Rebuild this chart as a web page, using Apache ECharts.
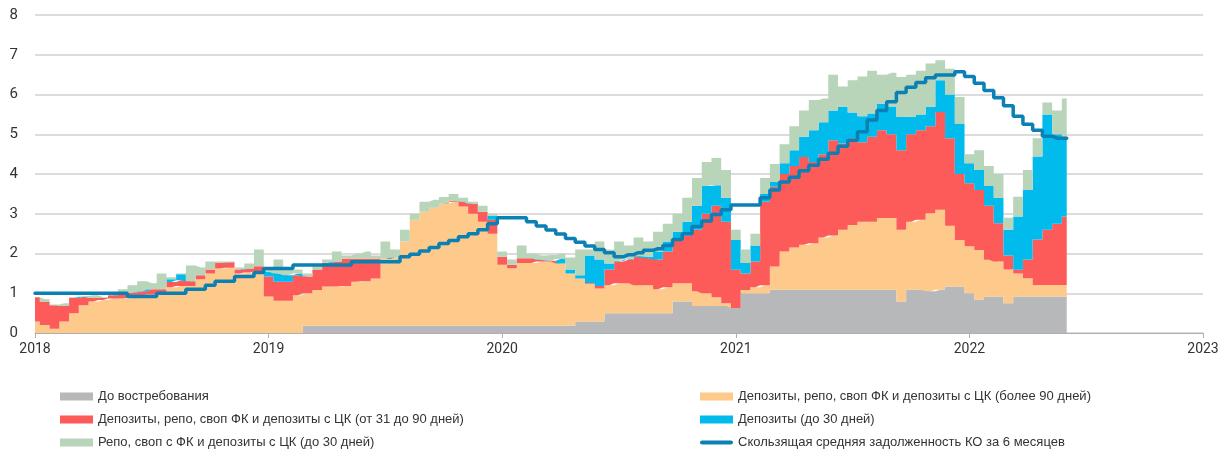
<!DOCTYPE html>
<html>
<head>
<meta charset="utf-8">
<script src="https://cdn.jsdelivr.net/npm/echarts@6/dist/echarts.min.js"></script>
<style>
html,body{margin:0;padding:0;background:#fff;}
#c{width:1231px;height:458px;}
</style>
</head>
<body>
<div id="c"></div>
<script>
// Semi-monthly observation slots, 2018-01 .. 2023-01 (data runs to 2022-06)
const periods = Array.from({length: 121}, (_, i) => {
  const y = 2018 + Math.floor(i / 24), m = Math.floor((i % 24) / 2) + 1, d = i % 2 ? 16 : 1;
  return y + '-' + String(m).padStart(2, '0') + '-' + String(d).padStart(2, '0');
});
const yearTicks = ['2018', '2019', '2020', '2021', '2022', '2023'];

const names = [
  'До востребования',
  'Депозиты, репо, своп ФК и депозиты с ЦК (более 90 дней)',
  'Депозиты, репо, своп ФК и депозиты с ЦК (от 31 до 90 дней)',
  'Депозиты (до 30 дней)',
  'Репо, своп с ФК и депозиты с ЦК (до 30 дней)',
  'Скользящая средняя задолженность КО за 6 месяцев'
];

const demand = [
  0,0,0,0,0,0,0,0,0,0,0,0,0,0,0,0,0,0,0,0,0,0,0,0,
  0,0,0,0,.18,.18,.18,.18,.18,.18,.18,.18,.18,.18,.18,.18,.18,.18,.18,.18,.18,.18,.18,.18,
  .18,.18,.18,.18,.18,.18,.18,.18,.29,.29,.29,.5,.5,.5,.5,.5,.5,.5,.79,.79,.68,.68,.68,.68,
  .63,1.0,1.0,1.0,1.09,1.09,1.09,1.09,1.09,1.09,1.09,1.09,1.09,1.09,1.09,1.09,1.09,.79,1.09,1.09,1.05,1.09,1.17,1.17,
  1.0,.84,.92,.92,.75,.92,.92,.92,.92,.92,.92
];
const over90 = [
  .29,.2,.11,.29,.5,.7,.79,.83,.87,.87,.88,.95,.97,.97,1.15,1.18,1.18,1.35,1.5,1.62,1.64,1.5,1.52,1.55,
  .92,.81,.81,.95,.82,.9,.99,.99,1.0,1.11,1.12,1.19,1.69,1.72,2.12,2.67,2.87,2.97,3.07,3.12,3.0,2.82,2.62,2.32,
  1.54,1.45,1.58,1.58,1.62,1.62,1.57,1.32,1.08,.95,.83,.7,.75,.75,.7,.7,.6,.65,.46,.46,.37,.32,.22,.07,
  0,.08,.15,.2,.58,.96,1.06,1.13,1.17,1.31,1.36,1.51,1.63,1.71,1.71,1.8,1.8,1.81,1.71,1.76,1.96,2.01,1.53,1.17,
  1.18,1.25,.92,.88,.85,.58,.46,.29,.29,.29,.29
];
const d31to90 = [
  .61,.58,.59,.39,.38,.21,.09,.05,.08,.13,.14,.1,.13,.13,.13,.15,.12,.1,.1,.15,.14,.1,.1,.13,
  .5,.48,.48,.5,.42,.52,.6,.63,.69,.58,.57,.5,0,0,0,0,0,0,0,.03,.12,.25,.25,.35,
  .2,.09,.12,.12,.04,.02,0,0,0,.02,.06,.4,.55,.6,.72,.68,.75,.9,1.1,1.2,1.55,2.0,2.3,2.05,
  .96,.42,.65,2.1,2.01,1.95,2.05,2.21,2.04,2.1,2.4,2.17,2.18,2.0,2.14,2.21,2.11,2.0,2.2,2.25,2.19,2.46,2.2,1.66,
  1.59,1.51,1.36,.96,.35,.09,.47,1.14,1.39,1.54,1.72
];
const dep30 = [
  0,0,0,0,0,0,0,0,0,0,0,0,0,0,.07,.15,0,0,0,0,0,0,0,0,
  .12,.21,.16,.05,0,0,0,0,0,0,0,0,0,0,0,0,0,0,0,0,0,0,0,.1,
  0,0,0,0,0,0,.11,.1,.08,.69,.67,.15,.02,.02,.02,.04,.2,.25,.2,.35,.6,.7,.52,.6,
  .75,.26,.4,.2,.12,.27,.4,.51,.8,.8,.75,.92,.65,.65,.58,.67,.7,.84,.44,.4,.49,.8,1.1,1.27,
  .5,.5,.5,.64,.65,1.34,1.75,2.09,2.9,2.25,1.97
];
const repo30 = [
  0,.07,.02,.07,.02,.02,.07,.02,.02,.1,.18,.25,.15,.4,.05,.02,.4,.2,.2,.03,.02,.05,.13,.42,
  .11,.35,.15,.1,.08,.1,.08,.25,.08,.13,.18,.08,.43,.2,.3,.15,.25,.2,.17,.17,.1,.05,.15,.05,
  .13,.13,.32,.12,.11,.14,.14,.3,.65,.15,.45,.35,.48,.33,.46,.38,.5,.45,.45,.6,.7,.6,.68,.7,
  .26,.34,.3,.4,.45,.48,.6,.66,.76,.6,.9,.51,.81,1.0,1.08,.73,.85,1.0,1.06,1.1,1.09,.5,.65,.67,
  .23,.5,.5,.6,.3,.5,.5,.46,.3,.6,1.0
];
const avg6m = [
  1.0,1.0,1.0,1.0,1.0,1.0,1.0,1.0,1.0,1.0,.92,.92,.92,1.0,1.0,1.0,1.1,1.1,1.2,1.3,1.3,1.42,1.42,1.52,
  1.62,1.62,1.62,1.71,1.71,1.71,1.71,1.71,1.71,1.79,1.79,1.79,1.79,1.79,1.92,1.98,2.06,2.15,2.25,2.33,2.42,2.5,2.6,2.75,
  2.9,2.9,2.9,2.8,2.69,2.59,2.49,2.38,2.28,2.19,2.1,2.02,1.92,1.97,2.02,2.08,2.12,2.2,2.35,2.5,2.68,2.82,2.98,3.1,
  3.22,3.22,3.22,3.4,3.6,3.8,3.92,4.08,4.22,4.37,4.52,4.7,4.85,5.06,5.36,5.6,5.82,6.05,6.18,6.3,6.42,6.49,6.49,6.57,
  6.45,6.28,6.1,5.92,5.72,5.45,5.25,5.1,4.95,4.9,4.9
];

const colors = ['#b7b8ba', '#fdca8b', '#fd5b59', '#00bbec', '#b8d4b9', '#0b80b4'];

function area(idx, arr) {
  return {
    name: names[idx], type: 'line', stack: 'total', step: 'middle',
    data: arr, symbol: 'none', showSymbol: false,
    lineStyle: {width: 0}, itemStyle: {color: colors[idx]},
    areaStyle: {color: colors[idx], opacity: 1}, z: 2
  };
}

const yearTick = (i) => i % 24 === 0;
const chart = echarts.init(document.getElementById('c'));
const legendText = {fontSize: 13, color: '#333', fontFamily: '"Liberation Sans Narrow", "Arial Narrow", "Liberation Sans", sans-serif'};
const lineIcon = 'path://M2,0 L31,0 A2,2 0 0 1 31,4 L2,4 A2,2 0 0 1 2,0 Z';
chart.setOption({
  animation: false,
  grid: {left: 35, right: 28, top: 15, bottom: 125},
  xAxis: {
    type: 'category', data: periods, boundaryGap: false,
    axisLine: {lineStyle: {color: '#b0b0b0', width: 1}},
    axisTick: {show: true, length: 5, interval: yearTick, lineStyle: {color: '#b0b0b0'}},
    splitLine: {show: false},
    axisLabel: {color: '#333', fontSize: 14, margin: 9, fontFamily: 'Roboto, sans-serif',
      interval: yearTick, showMaxLabel: true,
      formatter: (v, i) => yearTicks[i / 24]}
  },
  yAxis: {
    type: 'value', min: 0, max: 8, interval: 1,
    axisLine: {show: false}, axisTick: {show: false},
    splitLine: {lineStyle: {color: '#d0d0d0', width: 1.5}},
    axisLabel: {color: '#333', fontSize: 15, margin: 17, fontFamily: 'Roboto, sans-serif'}
  },
  legend: [
    {left: 55, top: 385, orient: 'vertical', itemWidth: 33, itemHeight: 8, itemGap: 10,
     textStyle: legendText, selectedMode: false,
     data: [{name: names[0], icon: 'rect'}, {name: names[2], icon: 'rect'}, {name: names[4], icon: 'rect'}]},
    {left: 695, top: 385, orient: 'vertical', itemWidth: 33, itemHeight: 8, itemGap: 10,
     textStyle: legendText, selectedMode: false,
     data: [{name: names[1], icon: 'rect'}, {name: names[3], icon: 'rect'}, {name: names[5], icon: lineIcon}]}
  ],
  series: [
    area(0, demand),
    area(1, over90),
    area(2, d31to90),
    area(3, dep30),
    area(4, repo30),
    {
      name: names[5], type: 'line', step: 'middle', data: avg6m,
      symbol: 'none', showSymbol: false,
      lineStyle: {width: 3.5, color: colors[5], cap: 'round'},
      itemStyle: {color: colors[5]}, z: 5
    }
  ]
});
</script>
</body>
</html>
